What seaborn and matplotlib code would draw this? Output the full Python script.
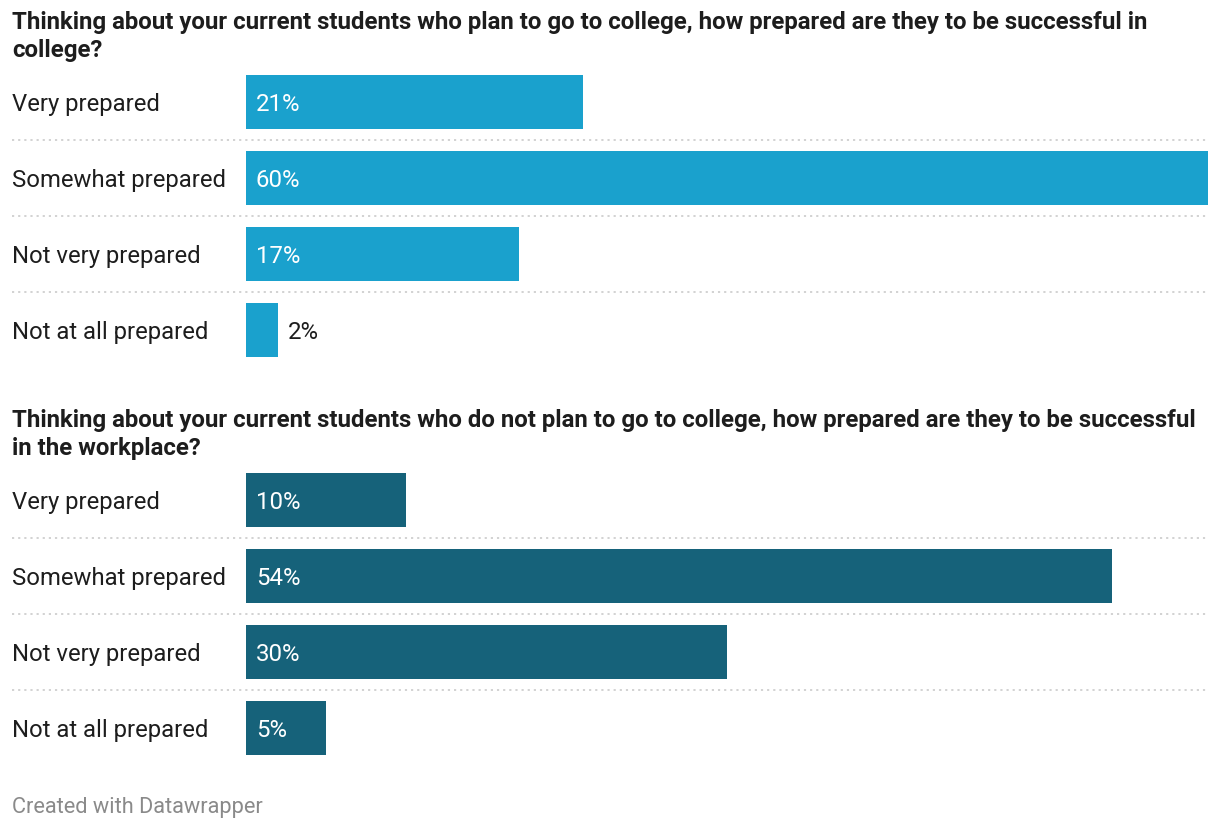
import matplotlib
matplotlib.use("Agg")
import matplotlib.pyplot as plt
import matplotlib.transforms as mtransforms
import pandas as pd
import seaborn as sns

sns.set_style("white")
plt.rcParams['font.family'] = ['Roboto', 'DejaVu Sans']

categories = ["Very prepared", "Somewhat prepared", "Not very prepared", "Not at all prepared"]
college_values = [21, 60, 17, 2]
workplace_values = [10, 54, 30, 5]

title_college = ("Thinking about your current students who plan to go to college, how prepared are they to be successful in\n"
                 "college?")
title_workplace = ("Thinking about your current students who do not plan to go to college, how prepared are they to be successful\n"
                   "in the workplace?")

COLOR_TOP = "#1aa1cd"
COLOR_BOTTOM = "#16627a"
TEXT = "#1d1d1d"

W, H = 1220, 832
fig = plt.figure(figsize=(W / 100, H / 100), dpi=100)

def panel(bottom_px, values, color, title):
    left = 246 / W
    width = 962 / W
    ax = fig.add_axes([left, (H - bottom_px) / H, width, 304 / H])
    df = pd.DataFrame({"cat": categories, "val": values})
    sns.barplot(data=df, x="val", y="cat", orient="h", color=color,
                width=0.71, saturation=1, linewidth=0, ax=ax)
    ax.set_xlim(0, 60)
    ax.set_ylim(3.5, -0.5)
    ax.set_xlabel("")
    ax.set_ylabel("")
    ax.set_xticks([])
    ax.set_yticks([])
    for s in ax.spines.values():
        s.set_visible(False)
    # category labels, left aligned at the figure margin
    trans = mtransforms.blended_transform_factory(fig.transFigure, ax.transData)
    for i, c in enumerate(categories):
        ax.text(12 / W, i + 0.03, c, transform=trans, ha="left", va="center",
                fontsize=17.2, color=TEXT)
    # dotted separators
    for i in range(len(categories) - 1):
        ax.axhline(i + 0.5, xmin=(12 - 246) / 962, xmax=1, color="#cfcfcf",
                   linestyle=(0, (1.2, 2.2)), linewidth=1.3, clip_on=False)
    # value labels
    for i, v in enumerate(values):
        if v >= 4:
            ax.text(0.62, i + 0.03, f"{v}%", color="white", va="center", ha="left", fontsize=17.3)
        else:
            ax.text(v + 0.62, i + 0.03, f"{v}%", color=TEXT, va="center", ha="left", fontsize=17.3)
    # title
    top_y = bottom_px - 304
    fig.text(12 / W, 1 - (top_y - 53) / H, title, fontsize=17.25, fontweight="bold",
             color=TEXT, va="top", ha="left", linespacing=1.3)
    return ax

panel(368, college_values, COLOR_TOP, title_college)
panel(766, workplace_values, COLOR_BOTTOM, title_workplace)

fig.text(12 / W, 1 - 808 / H, "Created with Datawrapper", fontsize=15.7, color="#8a8a8a",
         va="center", ha="left")

fig.savefig("out.png", dpi=100)
